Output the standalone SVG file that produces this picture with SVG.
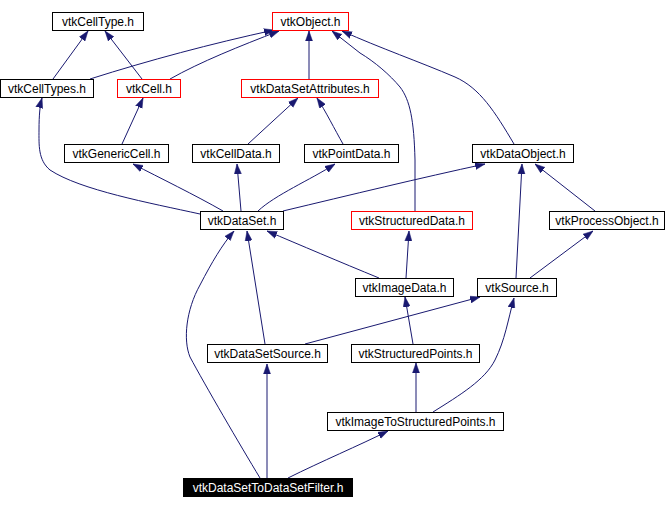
<svg xmlns="http://www.w3.org/2000/svg" width="666" height="509" viewBox="0 0 666 509">
<style>
.n rect{fill:#ffffff;stroke:#000000;stroke-width:1}
.n.r rect{stroke:#ff0000}
.n.b rect{fill:#000000}
.n text{font-family:"Liberation Sans",Arial,sans-serif;font-size:12px;text-anchor:middle;fill:#000000}
.n.b text{fill:#ffffff}
#edges path{fill:none;stroke:#191970;stroke-width:1;marker-end:url(#ah)}
</style>
<defs>
<marker id="ah" markerUnits="userSpaceOnUse" markerWidth="10" markerHeight="8" refX="10" refY="4" orient="auto">
<path d="M0,0.5 L10,4 L0,7.5 z" fill="#191970" stroke="#191970" stroke-width="0.5"/>
</marker>
</defs>
<rect width="666" height="509" fill="#ffffff"/>
<g id="edges">
<path d="M53,79 L88,31"/>
<path d="M142,79 L105,31"/>
<path d="M90,79 C150,60 210,44 274,30"/>
<path d="M170,79 C200,62 240,46 279,31"/>
<path d="M309,79 L309,31"/>
<path d="M415,211 L415,160 C414,120 410,100 400,87 C390,75 375,62 360,53 L332,31"/>
<path d="M514,144 C495,112 480,88 455,77 C420,62 380,48 342,31"/>
<path d="M248,144 L298,98"/>
<path d="M343,144 C335,130 325,110 317,98"/>
<path d="M122,144 L143,98"/>
<path d="M200,214 C150,203 80,190 50,170 C38,160 39,145 39,130 C39,115 40,105 42,98"/>
<path d="M223,211 C195,195 160,178 133,164"/>
<path d="M241,211 L237,164"/>
<path d="M258,211 C275,195 310,180 335,164"/>
<path d="M283,211 C350,195 420,178 485,164"/>
<path d="M379,278 C340,262 300,245 267,231"/>
<path d="M406,278 L409,231"/>
<path d="M516,278 L522,164"/>
<path d="M595,211 L535,164"/>
<path d="M530,278 L593,231"/>
<path d="M265,344 L247,231"/>
<path d="M305,344 L480,297"/>
<path d="M413,344 L405,297"/>
<path d="M416,412 L416,363"/>
<path d="M433,412 C460,395 485,380 495,360 C505,340 508,320 514,298"/>
<path d="M260,478 C240,445 205,385 190,357 C183,340 186,310 200,285 C212,262 222,245 234,231"/>
<path d="M267,478 L267,364"/>
<path d="M288,478 C320,462 360,445 388,431"/>
</g>
<g id="vtkCellType" class="n"><rect x="52.5" y="12.5" width="91" height="18"/><text x="98" y="26">vtkCellType.h</text></g>
<g id="vtkObject" class="n r"><rect x="272.5" y="12.5" width="76" height="18"/><text x="310.5" y="26">vtkObject.h</text></g>
<g id="vtkCellTypes" class="n"><rect x="0.5" y="79.5" width="93" height="18"/><text x="47" y="93">vtkCellTypes.h</text></g>
<g id="vtkCell" class="n r"><rect x="117.5" y="79.5" width="63" height="18"/><text x="149" y="93">vtkCell.h</text></g>
<g id="vtkDataSetAttributes" class="n r"><rect x="241.5" y="79.5" width="137" height="18"/><text x="310" y="93">vtkDataSetAttributes.h</text></g>
<g id="vtkGenericCell" class="n"><rect x="64.5" y="144.5" width="104" height="18"/><text x="116.5" y="158">vtkGenericCell.h</text></g>
<g id="vtkCellData" class="n"><rect x="192.5" y="144.5" width="87" height="18"/><text x="236" y="158">vtkCellData.h</text></g>
<g id="vtkPointData" class="n"><rect x="304.5" y="144.5" width="94" height="18"/><text x="351.5" y="158">vtkPointData.h</text></g>
<g id="vtkDataObject" class="n"><rect x="472.5" y="144.5" width="101" height="18"/><text x="523" y="158">vtkDataObject.h</text></g>
<g id="vtkDataSet" class="n"><rect x="200.5" y="211.5" width="83" height="18"/><text x="242" y="225">vtkDataSet.h</text></g>
<g id="vtkStructuredData" class="n r"><rect x="351.5" y="211.5" width="121" height="18"/><text x="412" y="225">vtkStructuredData.h</text></g>
<g id="vtkProcessObject" class="n"><rect x="549.5" y="211.5" width="115" height="18"/><text x="607" y="225">vtkProcessObject.h</text></g>
<g id="vtkImageData" class="n"><rect x="355.5" y="278.5" width="98" height="18"/><text x="404.5" y="292">vtkImageData.h</text></g>
<g id="vtkSource" class="n"><rect x="477.5" y="278.5" width="79" height="18"/><text x="517" y="292">vtkSource.h</text></g>
<g id="vtkDataSetSource" class="n"><rect x="207.5" y="344.5" width="120" height="18"/><text x="267.5" y="358">vtkDataSetSource.h</text></g>
<g id="vtkStructuredPoints" class="n"><rect x="351.5" y="344.5" width="128" height="18"/><text x="415.5" y="358">vtkStructuredPoints.h</text></g>
<g id="vtkImageToStructuredPoints" class="n"><rect x="327.5" y="412.5" width="176" height="18"/><text x="415.5" y="426">vtkImageToStructuredPoints.h</text></g>
<g id="vtkDataSetToDataSetFilter" class="n b"><rect x="183.5" y="478.5" width="169" height="18"/><text x="268" y="492">vtkDataSetToDataSetFilter.h</text></g>
</svg>
